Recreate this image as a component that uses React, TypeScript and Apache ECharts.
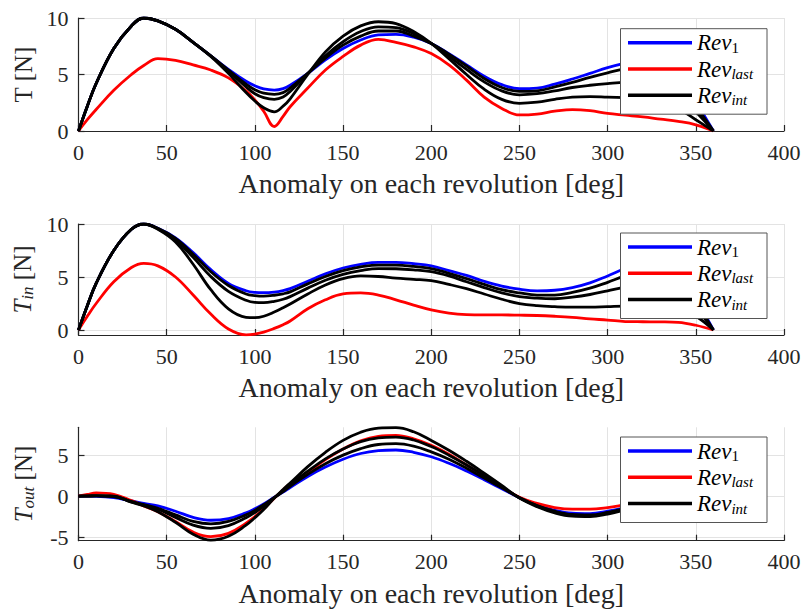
import React, { useEffect, useRef } from "react";
import * as echarts from "echarts";

const DEG = [0, 5, 10, 20, 30, 37, 45, 55, 65, 75, 85, 95, 100, 105, 111, 116, 120, 130, 140, 150, 160, 170, 180, 190, 200, 210, 220, 230, 240, 250, 260, 270, 280, 290, 300, 310, 320, 330, 340, 350, 360];

const X_TICKS = [0, 50, 100, 150, 200, 250, 300, 350, 400];

// Panel 1: T [N]
const T_REV1 = [0, 2.2, 4.2, 7.3, 9.3, 10.0, 9.75, 9.0, 7.85, 6.65, 5.45, 4.4, 4.0, 3.72, 3.62, 3.75, 4.05, 5.1, 6.3, 7.3, 8.05, 8.5, 8.55, 8.3, 7.75, 6.85, 5.85, 4.85, 4.1, 3.75, 3.8, 4.15, 4.6, 5.1, 5.6, 6.0, 6.3, 6.15, 5.0, 2.6, 0];
const T_LAST = [0, 1.0, 1.9, 3.6, 5.0, 5.8, 6.4, 6.25, 5.85, 5.4, 4.7, 3.55, 2.75, 1.75, 0.4, 1.3, 2.15, 3.8, 5.4, 6.6, 7.6, 8.1, 7.85, 7.45, 6.85, 5.85, 4.5, 3.0, 2.0, 1.42, 1.5, 1.75, 1.9, 1.8, 1.55, 1.4, 1.25, 1.05, 0.85, 0.55, 0];
const T_INT1 = [0, 2.2, 4.2, 7.3, 9.3, 10.0, 9.75, 9.0, 7.85, 6.65, 5.4, 4.15, 3.65, 3.35, 3.25, 3.4, 3.8, 5.1, 6.45, 7.6, 8.4, 8.85, 8.85, 8.4, 7.75, 6.8, 5.75, 4.65, 3.85, 3.5, 3.55, 3.9, 4.3, 4.75, 5.15, 5.5, 5.6, 5.3, 4.3, 2.2, 0];
const T_INT2 = [0, 2.2, 4.2, 7.3, 9.3, 10.0, 9.75, 9.0, 7.85, 6.65, 5.3, 3.9, 3.3, 2.95, 2.8, 3.0, 3.5, 5.1, 6.65, 7.9, 8.8, 9.22, 9.15, 8.6, 7.75, 6.6, 5.45, 4.35, 3.55, 3.2, 3.3, 3.55, 3.85, 4.05, 4.2, 4.3, 4.3, 4.0, 3.2, 1.7, 0];
const T_INT3 = [0, 2.2, 4.2, 7.3, 9.3, 10.0, 9.75, 9.0, 7.85, 6.6, 5.1, 3.4, 2.65, 2.05, 1.7, 2.2, 2.85, 5.0, 7.0, 8.4, 9.3, 9.67, 9.5, 8.8, 7.75, 6.4, 5.0, 3.7, 2.8, 2.45, 2.55, 2.8, 3.0, 3.05, 3.0, 2.95, 2.9, 2.6, 2.0, 1.0, 0];

// Panel 2: T_in [N]
const TIN_REV1 = [0, 2.3, 4.4, 7.5, 9.5, 10.0, 9.6, 8.7, 7.3, 5.7, 4.4, 3.7, 3.55, 3.52, 3.58, 3.72, 3.9, 4.6, 5.3, 5.85, 6.2, 6.38, 6.38, 6.25, 6.05, 5.6, 5.15, 4.6, 4.15, 3.85, 3.7, 3.75, 4.0, 4.45, 5.1, 5.8, 6.3, 6.4, 5.8, 3.0, 0];
const TIN_LAST = [0, 1.3, 2.5, 4.55, 5.9, 6.28, 6.05, 5.0, 3.3, 1.5, 0.1, -0.45, -0.38, -0.2, 0.15, 0.5, 0.85, 2.0, 2.85, 3.4, 3.5, 3.3, 2.85, 2.35, 1.9, 1.6, 1.45, 1.42, 1.42, 1.4, 1.37, 1.3, 1.2, 1.05, 0.94, 0.8, 0.78, 0.77, 0.72, 0.45, 0];
const TIN_INT1 = [0, 2.3, 4.4, 7.5, 9.5, 10.0, 9.6, 8.65, 7.15, 5.5, 4.2, 3.4, 3.25, 3.2, 3.28, 3.42, 3.6, 4.35, 5.05, 5.6, 5.95, 6.13, 6.12, 6.0, 5.8, 5.35, 4.85, 4.3, 3.8, 3.5, 3.3, 3.3, 3.55, 3.95, 4.5, 5.1, 5.5, 5.5, 4.9, 2.6, 0];
const TIN_INT2 = [0, 2.3, 4.4, 7.5, 9.5, 10.0, 9.55, 8.5, 6.85, 5.05, 3.65, 2.8, 2.6, 2.58, 2.7, 2.9, 3.15, 3.95, 4.7, 5.25, 5.6, 5.8, 5.78, 5.68, 5.5, 5.1, 4.55, 4.0, 3.5, 3.15, 3.0, 2.95, 3.1, 3.35, 3.7, 4.05, 4.3, 4.3, 3.8, 2.1, 0];
const TIN_INT3 = [0, 2.3, 4.4, 7.5, 9.5, 10.0, 9.5, 8.3, 6.2, 3.8, 2.0, 1.2, 1.16, 1.3, 1.7, 2.1, 2.45, 3.4, 4.25, 4.85, 5.1, 5.05, 4.9, 4.78, 4.65, 4.3, 3.9, 3.4, 2.9, 2.5, 2.3, 2.2, 2.15, 2.15, 2.2, 2.25, 2.25, 2.2, 2.0, 1.3, 0];

// Panel 3: T_out [N]
const TOUT_REV1 = [0, 0.0, -0.02, -0.2, -0.6, -0.9, -1.2, -1.85, -2.6, -2.95, -2.75, -2.05, -1.55, -0.95, -0.15, 0.5, 1.05, 2.4, 3.55, 4.5, 5.2, 5.55, 5.63, 5.35, 4.8, 4.0, 3.05, 2.0, 0.9, -0.2, -1.1, -1.75, -2.1, -2.15, -1.85, -1.4, -0.9, -0.5, -0.25, -0.1, 0];
const TOUT_LAST = [0, 0.2, 0.38, 0.2, -0.55, -1.2, -1.9, -3.1, -4.4, -4.96, -4.55, -3.3, -2.5, -1.55, -0.25, 0.75, 1.5, 2.9, 4.45, 5.75, 6.75, 7.3, 7.42, 7.0, 6.2, 5.1, 3.8, 2.45, 1.1, -0.15, -0.9, -1.4, -1.6, -1.6, -1.4, -1.05, -0.7, -0.4, -0.2, -0.08, 0];
const TOUT_INT1 = [0, 0.0, 0.02, -0.05, -0.65, -1.05, -1.5, -2.3, -3.1, -3.4, -3.1, -2.3, -1.75, -1.05, -0.2, 0.55, 1.2, 2.65, 3.95, 5.0, 5.8, 6.3, 6.4, 6.1, 5.4, 4.5, 3.4, 2.2, 1.0, -0.2, -1.15, -1.85, -2.25, -2.3, -2.0, -1.5, -1.0, -0.6, -0.3, -0.1, 0];
const TOUT_INT2 = [0, 0.0, 0.03, -0.05, -0.7, -1.1, -1.6, -2.6, -3.55, -3.94, -3.6, -2.65, -2.0, -1.25, -0.2, 0.65, 1.4, 3.05, 4.55, 5.75, 6.65, 7.1, 7.2, 6.85, 6.05, 5.0, 3.8, 2.5, 1.15, -0.2, -1.2, -1.95, -2.35, -2.4, -2.1, -1.6, -1.1, -0.65, -0.3, -0.1, 0];
const TOUT_INT3 = [0, 0.02, 0.05, 0.0, -0.75, -1.2, -1.9, -3.2, -4.65, -5.37, -4.9, -3.55, -2.65, -1.65, -0.25, 0.8, 1.6, 3.6, 5.35, 6.8, 7.8, 8.3, 8.35, 7.85, 6.8, 5.6, 4.25, 2.8, 1.3, -0.25, -1.3, -2.05, -2.45, -2.5, -2.2, -1.7, -1.15, -0.7, -0.35, -0.1, 0];

const Y_TICKS_T = [0, 5, 10];
const Y_TICKS_TIN = [0, 5, 10];
const Y_TICKS_TOUT = [-5, 0, 5];

const LEGEND_NAMES = ["Rev1", "Revlast", "Revint"];
const X_NAME = "Anomaly on each revolution [deg]";

const FONT = "Liberation Serif, Times New Roman, serif";
const AX = "#262626";
const GRIDC = "#e3e3e3";

const PANELS = [
  { rev1: T_REV1, last: T_LAST, ints: [T_INT1, T_INT2, T_INT3], yMin: 0, yMax: 10, yTicks: Y_TICKS_T, yName: "T [N]", top: 18, height: 113, box: 28.7 },
  { rev1: TIN_REV1, last: TIN_LAST, ints: [TIN_INT1, TIN_INT2, TIN_INT3], yMin: -0.47, yMax: 10, yTicks: Y_TICKS_TIN, yName: "{i|T}{s|in} [N]", top: 224, height: 111, box: 233 },
  { rev1: TOUT_REV1, last: TOUT_LAST, ints: [TOUT_INT1, TOUT_INT2, TOUT_INT3], yMin: -5.45, yMax: 8.4, yTicks: Y_TICKS_TOUT, yName: "{i|T}{s|out} [N]", top: 427.3, height: 113.4, box: 437 },
];

function buildOption() {
  const grid: any[] = [];
  const xAxis: any[] = [];
  const yAxis: any[] = [];
  const series: any[] = [];
  const legend: any[] = [];
  const graphic: any[] = [];

  PANELS.forEach((p, i) => {
    grid.push({ left: 78.5, top: p.top, width: 705.5, height: p.height, containLabel: false });
    xAxis.push({
      type: "value",
      gridIndex: i,
      min: X_TICKS[0],
      max: X_TICKS[X_TICKS.length - 1],
      interval: 50,
      name: X_NAME,
      nameLocation: "middle",
      nameGap: 38.5,
      nameTextStyle: { fontFamily: FONT, fontSize: 28, color: AX },
      axisLine: { show: true, onZero: false, lineStyle: { color: AX, width: 1.2 } },
      axisTick: { show: true, inside: true, length: 6, lineStyle: { color: AX, width: 1.2 } },
      axisLabel: { fontFamily: FONT, fontSize: 22, color: AX, margin: 10 },
      splitLine: { show: true, lineStyle: { color: GRIDC, width: 1 } },
    });
    yAxis.push({
      type: "value",
      gridIndex: i,
      min: p.yMin,
      max: p.yMax,
      name: p.yName,
      nameLocation: "middle",
      nameRotate: 90,
      nameGap: 42,
      nameTextStyle: {
        fontFamily: FONT,
        fontSize: 25,
        color: AX,
        rich: {
          i: { fontFamily: FONT, fontSize: 25, fontStyle: "italic", color: AX },
          s: { fontFamily: FONT, fontSize: 17, fontStyle: "italic", color: AX, padding: [10, 0, 0, 0] },
        },
      },
      axisLine: { show: true, onZero: false, lineStyle: { color: AX, width: 1.2 } },
      axisTick: { show: true, inside: true, length: 6, customValues: p.yTicks, lineStyle: { color: AX, width: 1.2 } },
      axisLabel: { fontFamily: FONT, fontSize: 22, color: AX, margin: 10, customValues: p.yTicks },
      splitLine: { show: true, lineStyle: { color: GRIDC, width: 1 } },
    });

    const mk = (name: string, color: string, vals: number[]) => ({
      type: "line",
      name,
      xAxisIndex: i,
      yAxisIndex: i,
      data: DEG.map((d, k) => [d, vals[k]]),
      showSymbol: false,
      symbol: "none",
      smooth: 0.4,
      color,
      itemStyle: { color },
      lineStyle: { color, width: 2.8 },
      z: 2,
    });
    series.push(mk("Rev1", "#0000ff", p.rev1));
    series.push(mk("Revlast", "#ff0000", p.last));
    p.ints.forEach((arr) => series.push(mk("Revint", "#000000", arr)));

    graphic.push({
      type: "rect",
      shape: { x: 620.5, y: p.box, width: 146.5, height: 85.5 },
      style: { fill: "#ffffff", stroke: "#555555", lineWidth: 1 },
      z: 3,
    });
    legend.push({
      show: true,
      orient: "vertical",
      left: 628,
      top: p.box + 2.5,
      padding: 0,
      itemGap: 2.3,
      itemWidth: 64,
      itemHeight: 3.5,
      icon: "rect",
      selectedMode: false,
      z: 5,
      data: LEGEND_NAMES,
      formatter: (name: string) =>
        name === "Rev1" ? "{r|Rev}{n|1}" : name === "Revlast" ? "{r|Rev}{s|last}" : "{r|Rev}{s|int}",
      textStyle: {
        fontFamily: FONT,
        color: "#000",
        fontSize: 23,
        rich: {
          r: { fontFamily: FONT, fontStyle: "italic", fontSize: 23, color: "#000" },
          n: { fontFamily: FONT, fontSize: 15, color: "#000", padding: [10, 0, 0, 0] },
          s: { fontFamily: FONT, fontStyle: "italic", fontSize: 15, color: "#000", padding: [10, 0, 0, 0] },
        },
      },
    });
  });

  return {
    animation: false,
    backgroundColor: "#ffffff",
    grid,
    xAxis,
    yAxis,
    series,
    legend,
    graphic,
  };
}

export default function App() {
  const ref = useRef<HTMLDivElement>(null);
  useEffect(() => {
    if (!ref.current) return;
    const chart = echarts.init(ref.current, null, { renderer: "svg" });
    chart.setOption(buildOption() as any);
    return () => chart.dispose();
  }, []);
  return (
    <div
      ref={ref}
      style={{ position: "fixed", left: 0, top: 0, width: 804, height: 613, background: "#fff" }}
    />
  );
}
